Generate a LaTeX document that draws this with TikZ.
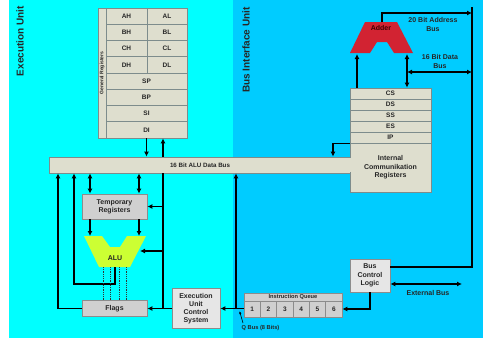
\documentclass[tikz,border=0pt]{standalone}
\usepackage{fontspec}
\setmainfont{Liberation Sans}
\usetikzlibrary{arrows.meta,calc}
\definecolor{euc}{RGB}{0,255,255}
\definecolor{biu}{RGB}{0,204,255}
\definecolor{beige}{RGB}{222,222,206}
\definecolor{boxgray}{RGB}{208,208,208}
\definecolor{boxlight}{RGB}{230,230,230}
\definecolor{edge}{RGB}{125,140,140}
\definecolor{adderred}{RGB}{210,35,50}
\definecolor{alugreen}{RGB}{204,255,51}
\begin{document}
\begin{tikzpicture}[x=1pt,y=-1pt,
  lbl/.style={font=\fontsize{7}{9}\selectfont\bfseries, text=black!85, align=center, inner sep=0pt},
  reg/.style={draw=edge, fill=beige, line width=0.8pt, inner sep=0pt, text=black!85, font=\fontsize{6.5}{7.5}\selectfont\bfseries},
  gbox/.style={draw=gray!90, fill=boxgray, line width=0.8pt, inner sep=0pt, align=center, text=black!85, font=\fontsize{7}{8.2}\selectfont\bfseries},
  lbox/.style={gbox, fill=boxlight},
  arr/.style={line width=1.2pt, -{Latex[length=5pt,width=5pt]}},
  darr/.style={line width=1.2pt, {Latex[length=5pt,width=5pt]}-{Latex[length=5pt,width=5pt]}},
  wire/.style={line width=1.2pt},
  dots/.style={densely dotted, line width=0.8pt, black!80},
]
\useasboundingbox (0,0) rectangle (483,340);
\fill[white] (0,0) rectangle (483,340);
\fill[euc] (9,0) rectangle (233,338);
\fill[biu] (233,0) rectangle (483,338);

% unit titles
\node[font=\fontsize{10}{12}\selectfont\bfseries, text=black!85, rotate=90] (eu) at (20,41) {Execution Unit};
\node[font=\fontsize{10}{12}\selectfont\bfseries, text=black!85, rotate=90] (biut) at (246,50) {Bus Interface Unit};

% general registers
\node[reg, rotate=90, minimum width=130pt, minimum height=8pt, font=\fontsize{5}{6}\selectfont\bfseries] (gr) at (102,73) {General Registers};
\node[reg, minimum width=41pt, minimum height=16.25pt] (ah) at (126.5,16.125) {AH};
\node[reg, minimum width=40pt, minimum height=16.25pt] (al) at (167,16.125) {AL};
\node[reg, minimum width=41pt, minimum height=16.25pt] (bh) at (126.5,32.375) {BH};
\node[reg, minimum width=40pt, minimum height=16.25pt] (bl) at (167,32.375) {BL};
\node[reg, minimum width=41pt, minimum height=16.25pt] (ch) at (126.5,48.625) {CH};
\node[reg, minimum width=40pt, minimum height=16.25pt] (cl) at (167,48.625) {CL};
\node[reg, minimum width=41pt, minimum height=16.25pt] (dh) at (126.5,64.875) {DH};
\node[reg, minimum width=40pt, minimum height=16.25pt] (dl) at (167,64.875) {DL};
\node[reg, minimum width=81pt, minimum height=16.25pt] (sp) at (146.5,81.125) {SP};
\node[reg, minimum width=81pt, minimum height=16.25pt] (bp) at (146.5,97.375) {BP};
\node[reg, minimum width=81pt, minimum height=16.25pt] (si) at (146.5,113.625) {SI};
\node[reg, minimum width=81pt, minimum height=16.25pt] (di) at (146.5,129.875) {DI};

% ALU data bus
\node[reg, minimum width=302pt, minimum height=16pt, font=\fontsize{6.2}{7}\selectfont\bfseries] (bus) at (200,165) {16 Bit ALU Data Bus};

% internal communication registers
\node[reg, minimum width=81pt, minimum height=11pt] (cs) at (390.5,93.5) {CS};
\node[reg, minimum width=81pt, minimum height=11pt] (ds) at (390.5,104.5) {DS};
\node[reg, minimum width=81pt, minimum height=11pt] (ss) at (390.5,115.5) {SS};
\node[reg, minimum width=81pt, minimum height=11pt] (es) at (390.5,126.5) {ES};
\node[reg, minimum width=81pt, minimum height=11pt] (ip) at (390.5,137.5) {IP};
\node[reg, minimum width=81pt, minimum height=49pt, align=center, font=\fontsize{7}{8.5}\selectfont\bfseries] (icr) at (390.5,167.5) {Internal\\Communikation\\Registers};
\fill[beige] (348.5,157.6) rectangle (351.5,172.4);

% adder
\fill[adderred] (350,53) -- (365,22) -- (397,22) -- (413,53) -- (394,53) -- (387,42) -- (377,42) -- (370,53) -- cycle;
\node[lbl, text=black!75!red] (adder) at (381,28) {Adder};

% ALU
\fill[alugreen] (84,236) -- (102,236) -- (110,247) -- (120,247) -- (127,236) -- (146,236) -- (130,267) -- (99,267) -- cycle;
\node[lbl] (alu) at (115,258) {ALU};

% EU boxes
\node[gbox, minimum width=65pt, minimum height=25pt] (temp) at (114.5,206.5) {Temporary\\Registers};
\node[gbox, minimum width=65pt, minimum height=16pt] (flags) at (114.5,308.5) {Flags};
\node[lbox, minimum width=48pt, minimum height=40pt] (eucs) at (196,308.5) {Execution\\Unit\\Control\\System};

% BIU boxes
\node[lbox, minimum width=40pt, minimum height=33pt] (bcl) at (370,275.5) {Bus\\Control\\Logic};
\node[gbox, minimum width=98pt, minimum height=8pt, font=\fontsize{5.7}{6.5}\selectfont\bfseries] (iqh) at (293,297) {Instruction Queue};
\node[gbox, minimum width=16.33pt, minimum height=16pt, font=\fontsize{6.5}{7.5}\selectfont\bfseries] (q1) at (252.17,309) {1};
\node[gbox, minimum width=16.33pt, minimum height=16pt, font=\fontsize{6.5}{7.5}\selectfont\bfseries] (q2) at (268.5,309) {2};
\node[gbox, minimum width=16.33pt, minimum height=16pt, font=\fontsize{6.5}{7.5}\selectfont\bfseries] (q3) at (284.83,309) {3};
\node[gbox, minimum width=16.33pt, minimum height=16pt, font=\fontsize{6.5}{7.5}\selectfont\bfseries] (q4) at (301.17,309) {4};
\node[gbox, minimum width=16.33pt, minimum height=16pt, font=\fontsize{6.5}{7.5}\selectfont\bfseries] (q5) at (317.5,309) {5};
\node[gbox, minimum width=16.33pt, minimum height=16pt, font=\fontsize{6.5}{7.5}\selectfont\bfseries] (q6) at (333.83,309) {6};

% labels
\node[lbl] (ablbl) at (433,24.5) {20 Bit Address\\Bus};
\node[lbl] (dblbl) at (440,61.5) {16 Bit Data\\Bus};
\node[lbl] (extlbl) at (428,292.5) {External Bus};
\node[lbl, font=\fontsize{5.7}{6.5}\selectfont\bfseries] (qbus) at (260.5,328) {Q Bus (8 Bits)};

% coordinates
\coordinate (xA) at (58,0);
\coordinate (xB) at (74,0);
\coordinate (xT1) at (90,0);
\coordinate (xT2) at (139,0);
\coordinate (xC) at (163,0);
\coordinate (xQ) at (236,0);
\coordinate (xI) at (333,0);
\coordinate (xAd1) at (357,0);
\coordinate (yAluT) at (0,236);
\coordinate (yAluB) at (0,284);
\coordinate (aluB) at (115,267);
\coordinate (aluR) at (140,251);
\coordinate (adtop) at (382,22);
\coordinate (abus) at (382,13);
\coordinate (adbot) at (0,54);
\coordinate (dbus) at (407,72);
\coordinate (rtop) at (472,7);
\coordinate (rbot) at (472,267);
\coordinate (extR) at (462,284);
\coordinate (qtip) at (239.5,311);
\coordinate (qfoot) at (243,323);

% EU connectors
\draw[arr] (di.south) -- (di.south |- bus.north);
\draw[arr] (bus.north -| xC) -- (di.south -| xC);
\draw[wire] (bus.south -| xC) -- (eucs.west -| xC);
\draw[arr] (temp.east -| xC) -- (temp.east);
\draw[arr] (aluR -| xC) -- (aluR);
\draw[arr] (eucs.west) -- (flags.east);
\draw[darr] (bus.south -| xT1) -- (temp.north -| xT1);
\draw[darr] (bus.south -| xT2) -- (temp.north -| xT2);
\draw[arr] (temp.south -| xT1) -- (yAluT -| xT1);
\draw[arr] (temp.south -| xT2) -- (yAluT -| xT2);
\draw[arr] (flags.west) -| (bus.south -| xA);
\draw[arr] (aluB) -- (aluB |- yAluB) -| (bus.south -| xB);
\foreach \x in {103,110,119,126} \draw[dots] (\x,267) -- (\x,300.5);

% BIU connectors
\draw[arr] (q1.west |- eucs.east) -- (eucs.east);
\draw[arr] (eucs.east -| xQ) -- (bus.south -| xQ);
\draw[-{Latex[length=3pt,width=2.5pt]}, line width=0.6pt] (qfoot) -- (qtip);
\draw[arr] (bcl.south) |- (q6.east);
\draw[darr] (extR -| bcl.east) -- (extR);
\draw[wire] (rtop) -- (rbot) -- (rbot -| bcl.east);
\draw[arr] (adtop) -- (abus) -- (abus -| rtop);
\draw[darr] (dbus) -- (dbus -| rtop);
\draw[darr] (cs.north -| dbus) -- (adbot -| dbus);
\draw[arr] (cs.north -| xAd1) -- (adbot -| xAd1);
\draw[arr] (ip.south west) -| (bus.north -| xI);
\end{tikzpicture}
\end{document}
